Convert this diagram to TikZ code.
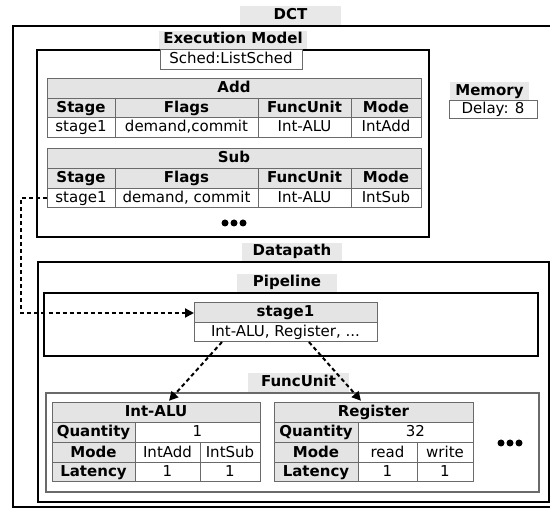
\documentclass[tikz,border=0pt]{standalone}
\usepackage{fontspec}
\setmainfont{DejaVu Sans}
\usetikzlibrary{arrows.meta,calc}
\definecolor{hdrgray}{HTML}{E4E4E4}
\definecolor{lblgray}{HTML}{E8E8E8}
\definecolor{rulegray}{HTML}{6A6A6A}

% one table cell / boxed label, given by its corners
\newcommand\tcell[7]{% name, x1, y1, x2, y2, style, text
  \pgfmathsetmacro\cellw{#4-(#2)}%
  \pgfmathsetmacro\cellh{#5-(#3)}%
  \node[#6, minimum width=\cellw pt, minimum height=\cellh pt] (#1)
    at ({(#2+#4)/2},{(#3+#5)/2}) {#7};}

\tikzset{
  txt/.style={font=\fontsize{15}{17}\selectfont, text height=11pt, text depth=3pt},
  cell/.style={txt, draw=rulegray, line width=1pt, fill=white, inner sep=0pt, outer sep=0pt},
  hcell/.style={cell, fill=hdrgray, font=\bfseries\fontsize{15}{17}\selectfont},
  lbl/.style={txt, fill=lblgray, inner sep=0pt, outer sep=0pt, font=\bfseries\fontsize{15}{17}\selectfont},
  frame/.style={draw=black, line width=2pt},
  fuframe/.style={draw=rulegray, line width=1.3pt},
  flow/.style={draw=black, line width=2pt, dash pattern=on 4pt off 3pt,
    -{Triangle[length=9pt,width=9pt]}},
  dot/.style={fill=black, draw=none},
}

\begin{document}
\begin{tikzpicture}[x=1pt, y=-1pt]
\useasboundingbox (0,0) rectangle (550,508);

% frames
\draw[frame] (13,26) rectangle (553,507);
\draw[frame] (37,50) rectangle (429,237);
\draw[frame] (38,262) rectangle (549,502);
\draw[frame] (44,293) rectangle (538,356);
\draw[fuframe] (46,393) rectangle (539,492);

% labels
\tcell{dct}{240}{6}{341}{25}{lbl}{DCT}
\tcell{exlbl}{159}{31}{307}{49}{lbl}{Execution Model}
\tcell{sched}{160}{50}{302}{70}{cell}{Sched:ListSched}
\tcell{memlbl}{450}{82}{529}{101}{lbl}{Memory}
\tcell{delay}{449}{101}{537}{119}{cell}{Delay: 8}
\tcell{dplbl}{242}{243}{342}{261}{lbl}{Datapath}
\tcell{pplbl}{237}{274}{337}{292}{lbl}{Pipeline}
\tcell{fulbl}{248}{373}{349}{392}{lbl}{FuncUnit}

% Add instruction
\tcell{addH}{47}{79}{421}{99}{hcell}{Add}
\tcell{addC1}{47}{99}{115}{118}{hcell}{Stage}
\tcell{addC2}{115}{99}{258}{118}{hcell}{Flags}
\tcell{addC3}{258}{99}{351}{118}{hcell}{FuncUnit}
\tcell{addC4}{351}{99}{421}{118}{hcell}{Mode}
\tcell{addS}{47}{118}{115}{138}{cell}{stage1}
\tcell{addF}{115}{118}{258}{138}{cell}{demand,commit}
\tcell{addU}{258}{118}{351}{138}{cell}{Int-ALU}
\tcell{addM}{351}{118}{421}{138}{cell}{IntAdd}

% Sub instruction
\tcell{subH}{47}{149}{421}{169}{hcell}{Sub}
\tcell{subC1}{47}{169}{115}{189}{hcell}{Stage}
\tcell{subC2}{115}{169}{258}{189}{hcell}{Flags}
\tcell{subC3}{258}{169}{351}{189}{hcell}{FuncUnit}
\tcell{subC4}{351}{169}{421}{189}{hcell}{Mode}
\tcell{subS}{47}{189}{115}{208}{cell}{stage1}
\tcell{subF}{115}{189}{258}{208}{cell}{demand, commit}
\tcell{subU}{258}{189}{351}{208}{cell}{Int-ALU}
\tcell{subM}{351}{189}{421}{208}{cell}{IntSub}

\foreach \dx in {-9,0,9} \fill[dot] (234+\dx,223) circle (3.5);

% pipeline stage
\tcell{stgH}{194}{303}{377}{323}{hcell}{stage1}
\tcell{stgB}{194}{323}{377}{342}{cell}{Int-ALU, Register, ...}

% functional units
\tcell{aluH}{52}{403}{260}{423}{hcell}{Int-ALU}
\tcell{aluQl}{52}{423}{135}{443}{hcell}{Quantity}
\tcell{aluQ}{135}{423}{260}{443}{cell}{1}
\tcell{aluMl}{52}{443}{135}{463}{hcell}{Mode}
\tcell{aluM1}{135}{443}{200}{463}{cell}{IntAdd}
\tcell{aluM2}{200}{443}{260}{463}{cell}{IntSub}
\tcell{aluLl}{52}{463}{135}{482}{hcell}{Latency}
\tcell{aluL1}{135}{463}{200}{482}{cell}{1}
\tcell{aluL2}{200}{463}{260}{482}{cell}{1}

\tcell{regH}{274}{403}{473}{423}{hcell}{Register}
\tcell{regQl}{274}{423}{358}{443}{hcell}{Quantity}
\tcell{regQ}{358}{423}{473}{443}{cell}{32}
\tcell{regMl}{274}{443}{358}{463}{hcell}{Mode}
\tcell{regM1}{358}{443}{417}{463}{cell}{read}
\tcell{regM2}{417}{443}{473}{463}{cell}{write}
\tcell{regLl}{274}{463}{358}{482}{hcell}{Latency}
\tcell{regL1}{358}{463}{417}{482}{cell}{1}
\tcell{regL2}{417}{463}{473}{482}{cell}{1}

\foreach \dx in {-9,0,9} \fill[dot] (510+\dx,443) circle (3.5);

% connectors
\coordinate (turn) at (21,198);
\draw[flow] (subS.west) -- (subS.west -| turn) |- (stgH.west);
\draw[flow, shorten >=3pt] ($(stgB.south west)!0.153!(stgB.south east)$)
  -- ($(aluH.north west)!0.553!(aluH.north east)$);
\draw[flow, shorten >=3pt] ($(stgB.south west)!0.628!(stgB.south east)$)
  -- ($(regH.north west)!0.447!(regH.north east)$);
\end{tikzpicture}
\end{document}
